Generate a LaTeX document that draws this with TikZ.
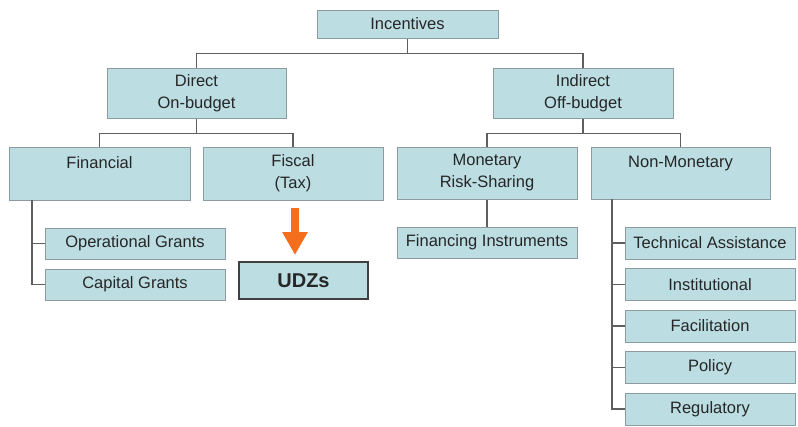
\documentclass[tikz,border=0pt]{standalone}
\usepackage{fontspec}
\setmainfont{Liberation Sans}
\usepackage{tikz}
\usepackage{xcolor}
\usetikzlibrary{shapes, positioning, arrows.meta}

\definecolor{boxfill}{RGB}{188,222,227}
\definecolor{boxline}{RGB}{140,155,160}
\definecolor{treeline}{RGB}{95,95,95}
\definecolor{arrorange}{RGB}{245,110,30}

\tikzset{
    box/.style={rectangle, draw=boxline, line width=1pt, fill=boxfill,
        text=black!85, align=center, inner sep=0pt,
        font=\fontsize{16.5}{22}\selectfont},
    tree/.style={draw=treeline, line width=1.7pt}
}

\begin{document}
\begin{tikzpicture}[x=1pt, y=-1pt]
        \useasboundingbox (0,0) rectangle (798,426);

        \node[box, minimum width=181, minimum height=28] (incent) at (407.5, 24) {Incentives};
        \node[box, minimum width=179, minimum height=50] (direct) at (196.5, 93) {Direct\\On-budget};
        \node[box, minimum width=180, minimum height=50] (indirect) at (583, 93) {Indirect\\Off-budget};

        \node[box, minimum width=181, minimum height=53] (financial) at (99.5, 173.5) {Financial\\~};
        \node[box, minimum width=180, minimum height=53] (fiscal) at (293, 173.5) {Fiscal\\(Tax)};
        \node[box, minimum width=180, minimum height=52] (monetary) at (487, 173) {Monetary\\Risk-Sharing};
        \node[box, minimum width=179, minimum height=52] (nonmon) at (680.5, 173) {Non-Monetary\\~};

        \node[box, minimum width=180, minimum height=31] (opgrants) at (135, 243.5) {Operational Grants};
        \node[box, minimum width=180, minimum height=31] (capgrants) at (135, 284.5) {Capital Grants};
        \node[box, minimum width=129, minimum height=37, draw=black!75, line width=1.5pt,
            font=\fontsize{20}{24}\selectfont\bfseries] (udz) at (303.5, 280.5) {UDZs};
        \node[box, minimum width=180, minimum height=31] (fininstr) at (487, 242.5) {Financing Instruments};

        \node[box, minimum width=170, minimum height=32] (techass) at (710, 243) {Technical Assistance};
        \node[box, minimum width=170, minimum height=32] (instit) at (710, 284.5) {Institutional};
        \node[box, minimum width=170, minimum height=32] (facil) at (710, 326) {Facilitation};
        \node[box, minimum width=170, minimum height=32] (policy) at (710, 367.5) {Policy};
        \node[box, minimum width=170, minimum height=32] (regul) at (710, 409) {Regulatory};

        \coordinate (finbar) at (32, 200);
        \coordinate (nonbar) at (612, 199);
        \coordinate (arrtop) at (295, 208);
        \coordinate (arrtip) at (295, 255);

        \draw[tree] (incent.south) -- ++(0,15) -| (direct.north)
            (incent.south) ++(0,15) -| (indirect.north);
        \draw[tree] (direct.south) -- ++(0,15) -| (financial.north)
            (direct.south) ++(0,15) -| (fiscal.north);
        \draw[tree] (indirect.south) -- ++(0,15) -| (monetary.north)
            (indirect.south) ++(0,15) -| (nonmon.north);

        \draw[tree] (finbar) |- (capgrants.west)
            (finbar |- opgrants.west) -- (opgrants.west);
        \draw[tree] (monetary.south) -- (fininstr.north);
        \draw[tree] (nonbar) |- (regul.west)
            (nonbar |- techass.west) -- (techass.west)
            (nonbar |- instit.west) -- (instit.west)
            (nonbar |- facil.west) -- (facil.west)
            (nonbar |- policy.west) -- (policy.west);

        \draw[arrorange, line width=8pt, -{Triangle[width=24pt, length=23pt]}] (arrtop) -- (arrtip);
    \end{tikzpicture}
\end{document}
